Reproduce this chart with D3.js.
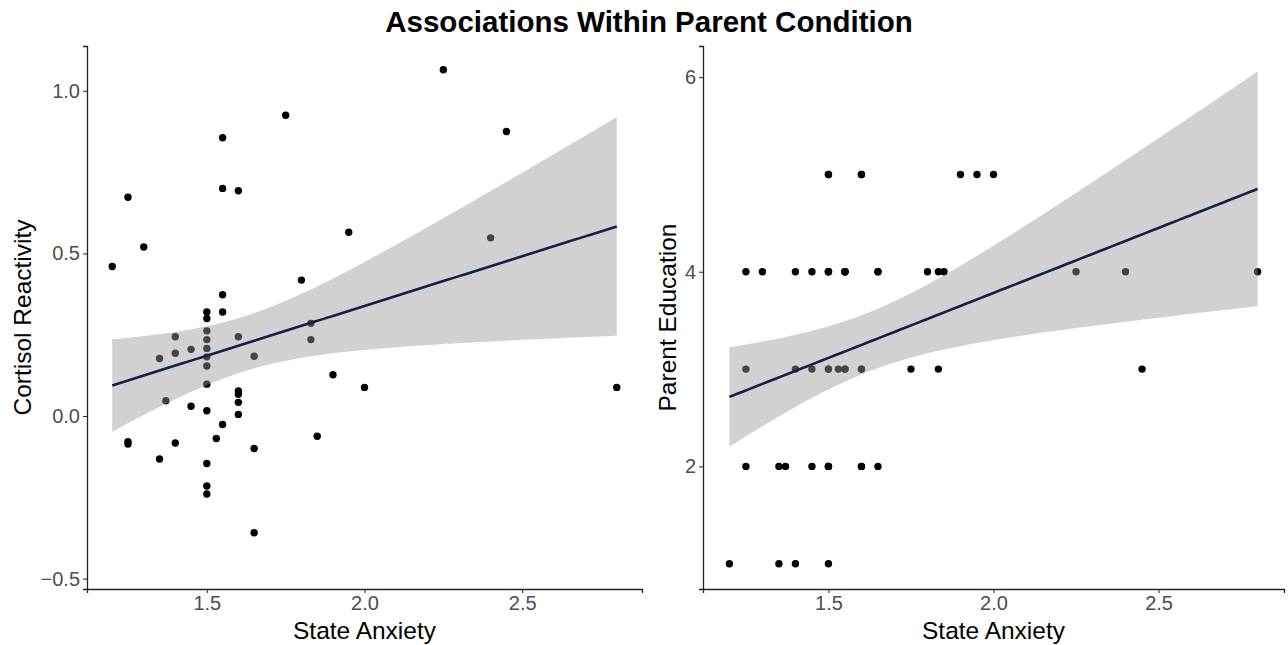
<!DOCTYPE html>
<html>
<head>
<meta charset="utf-8">
<script src="https://cdn.jsdelivr.net/npm/d3@7"></script>
<style>
html,body{margin:0;padding:0;background:#fff;}
svg text{font-family:"Liberation Sans",Arial,sans-serif;}
</style>
</head>
<body>
<svg id="chart" width="1288" height="645"></svg>
<script>
// ---- Data ----
const title = "Associations Within Parent Condition";
const xLabel = "State Anxiety";

// Left panel: State Anxiety vs Cortisol Reactivity
const cortAnx = [1.2,1.25,1.3,1.55,1.55,1.6,1.75,1.95,1.8,1.55,1.5,1.5,1.55,1.5,1.4,1.6,1.83,1.83,1.5,1.35,
  1.4,1.45,1.5,1.5,1.5,1.65,1.5,1.37,1.45,1.5,1.6,1.6,1.6,1.6,1.9,2.0,1.25,1.25,1.4,1.55,
  1.53,1.85,1.65,1.35,1.5,1.5,1.5,1.65,2.25,2.45,2.4,2.8];
const cortVal = [0.46,0.673,0.52,0.856,0.70,0.693,0.925,0.565,0.418,0.373,0.32,0.30,0.32,0.262,0.244,0.244,0.285,0.235,0.235,0.177,
  0.193,0.205,0.208,0.182,0.154,0.184,0.098,0.047,0.03,0.016,0.077,0.067,0.042,0.005,0.127,0.088,-0.079,-0.086,-0.083,-0.026,
  -0.069,-0.062,-0.10,-0.132,-0.146,-0.215,-0.24,-0.359,1.065,0.875,0.548,0.088];
const cortTicksX = [1.5,2.0,2.5];
const cortTicksY = [-0.5,0.0,0.5,1.0];

// Right panel: State Anxiety vs Parent Education
// (visible points, followed by estimated overlapping duplicates at shared positions)
const eduAnx = [1.5,1.6,1.9,1.95,2.0,
  1.25,1.3,1.4,1.45,1.5,1.55,1.65,1.8,1.833,1.85,2.25,2.4,2.8,
  1.25,1.4,1.45,1.5,1.53,1.55,1.6,1.75,1.833,2.45,
  1.25,1.35,1.37,1.45,1.5,1.6,1.65,
  1.2,1.35,1.4,1.5,
  1.5,1.5,1.5,1.5,1.5,1.5,1.55,1.55,1.55,1.6,1.6,1.6,1.65];
const eduVal = [5,5,5,5,5,
  4,4,4,4,4,4,4,4,4,4,4,4,4,
  3,3,3,3,3,3,3,3,3,3,
  2,2,2,2,2,2,2,
  1,1,1,1,
  5,4,4,3,2,2,4,4,3,5,3,2,4];
const eduTicksX = [1.5,2.0,2.5];
const eduTicksY = [2,4,6];

// ---- helpers ----
function tq975(df){
  const z = 1.959964;
  return z + (z*z*z+z)/(4*df) + (5*Math.pow(z,5)+16*z*z*z+3*z)/(96*df*df)
    + (3*Math.pow(z,7)+19*Math.pow(z,5)+17*z*z*z-15*z)/(384*df*df*df);
}
function lmFit(xs, ys){
  const n = xs.length;
  const mx = d3.mean(xs), my = d3.mean(ys);
  let sxx=0, sxy=0;
  for(let i=0;i<n;i++){ sxx += (xs[i]-mx)**2; sxy += (xs[i]-mx)*(ys[i]-my); }
  const b = sxy/sxx, a = my - b*mx;
  let sse=0;
  for(let i=0;i<n;i++){ sse += (ys[i]-a-b*xs[i])**2; }
  const s = Math.sqrt(sse/(n-2));
  const t = tq975(n-2);
  const x0 = d3.min(xs), x1 = d3.max(xs);
  return d3.range(0,81).map(k=>{
    const x = x0 + (x1-x0)*k/80;
    const f = a + b*x;
    const se = s*Math.sqrt(1/n + (x-mx)**2/sxx);
    return {x, f, lo: f - t*se, hi: f + t*se};
  });
}

const svg = d3.select("#chart");
svg.append("text").attr("x",649).attr("y",32).attr("text-anchor","middle")
  .attr("font-size",29.5).attr("font-weight","bold").attr("fill","#000").text(title);

function panel(cfg){
  const g = svg.append("g");
  const x = d3.scaleLinear().domain(cfg.xd).range([cfg.left, cfg.right]);
  const y = d3.scaleLinear().domain(cfg.yd).range([cfg.bottom, cfg.top]);
  const fit = lmFit(cfg.xs, cfg.ys);

  g.append("g").selectAll("circle").data(cfg.xs).join("circle")
    .attr("cx",(d)=>x(d)).attr("cy",(d,i)=>y(cfg.ys[i])).attr("r",3.7).attr("fill","#000");
  g.append("path").datum(fit)
    .attr("d", d3.area().x(d=>x(d.x)).y0(d=>y(d.lo)).y1(d=>y(d.hi)))
    .attr("fill","#999999").attr("fill-opacity",0.45);
  g.append("path").datum(fit)
    .attr("d", d3.line().x(d=>x(d.x)).y(d=>y(d.f)))
    .attr("fill","none").attr("stroke","#132046").attr("stroke-width",2.6);

  const ax = g.append("g").attr("transform",`translate(0,${cfg.bottom})`)
    .call(d3.axisBottom(x).tickValues(cfg.xt).tickFormat(d3.format(".1f")).tickSizeOuter(0).tickSize(4).tickPadding(3));
  const ay = g.append("g").attr("transform",`translate(${cfg.left},0)`)
    .call(d3.axisLeft(y).tickValues(cfg.yt).tickFormat(cfg.yf).tickSizeOuter(0).tickSize(4).tickPadding(3));
  [ax,ay].forEach(a=>{
    a.select(".domain").attr("stroke","#222").attr("stroke-width",1.3);
    a.selectAll(".tick line").attr("stroke","#333").attr("stroke-width",1.1);
    a.selectAll(".tick text").attr("fill","#4D4D4D").attr("font-size",20)
      .attr("font-family","Liberation Sans, Arial, sans-serif");
  });
  ax.selectAll(".tick text").attr("dy","0.72em");
  g.append("text").attr("x",(cfg.left+cfg.right)/2).attr("y",639).attr("text-anchor","middle")
    .attr("font-size",24.5).attr("fill","#000").text(xLabel);
  g.append("text").attr("transform",`translate(${cfg.ytx},${(cfg.top+cfg.bottom)/2}) rotate(-90)`)
    .attr("text-anchor","middle").attr("font-size",24.5).attr("fill","#000").text(cfg.ylab);
}

panel({xs:cortAnx, ys:cortVal, xd:[1.12,2.88], yd:[-0.532,1.138],
  left:87, right:642, top:46, bottom:589, xt:cortTicksX, yt:cortTicksY,
  yf:d3.format(".1f"), ylab:"Cortisol Reactivity", ytx:31});
panel({xs:eduAnx, ys:eduVal, xd:[1.12,2.88], yd:[0.74,6.32],
  left:703, right:1284, top:46, bottom:589, xt:eduTicksX, yt:eduTicksY,
  yf:d3.format("d"), ylab:"Parent Education", ytx:676});
</script>
</body>
</html>
